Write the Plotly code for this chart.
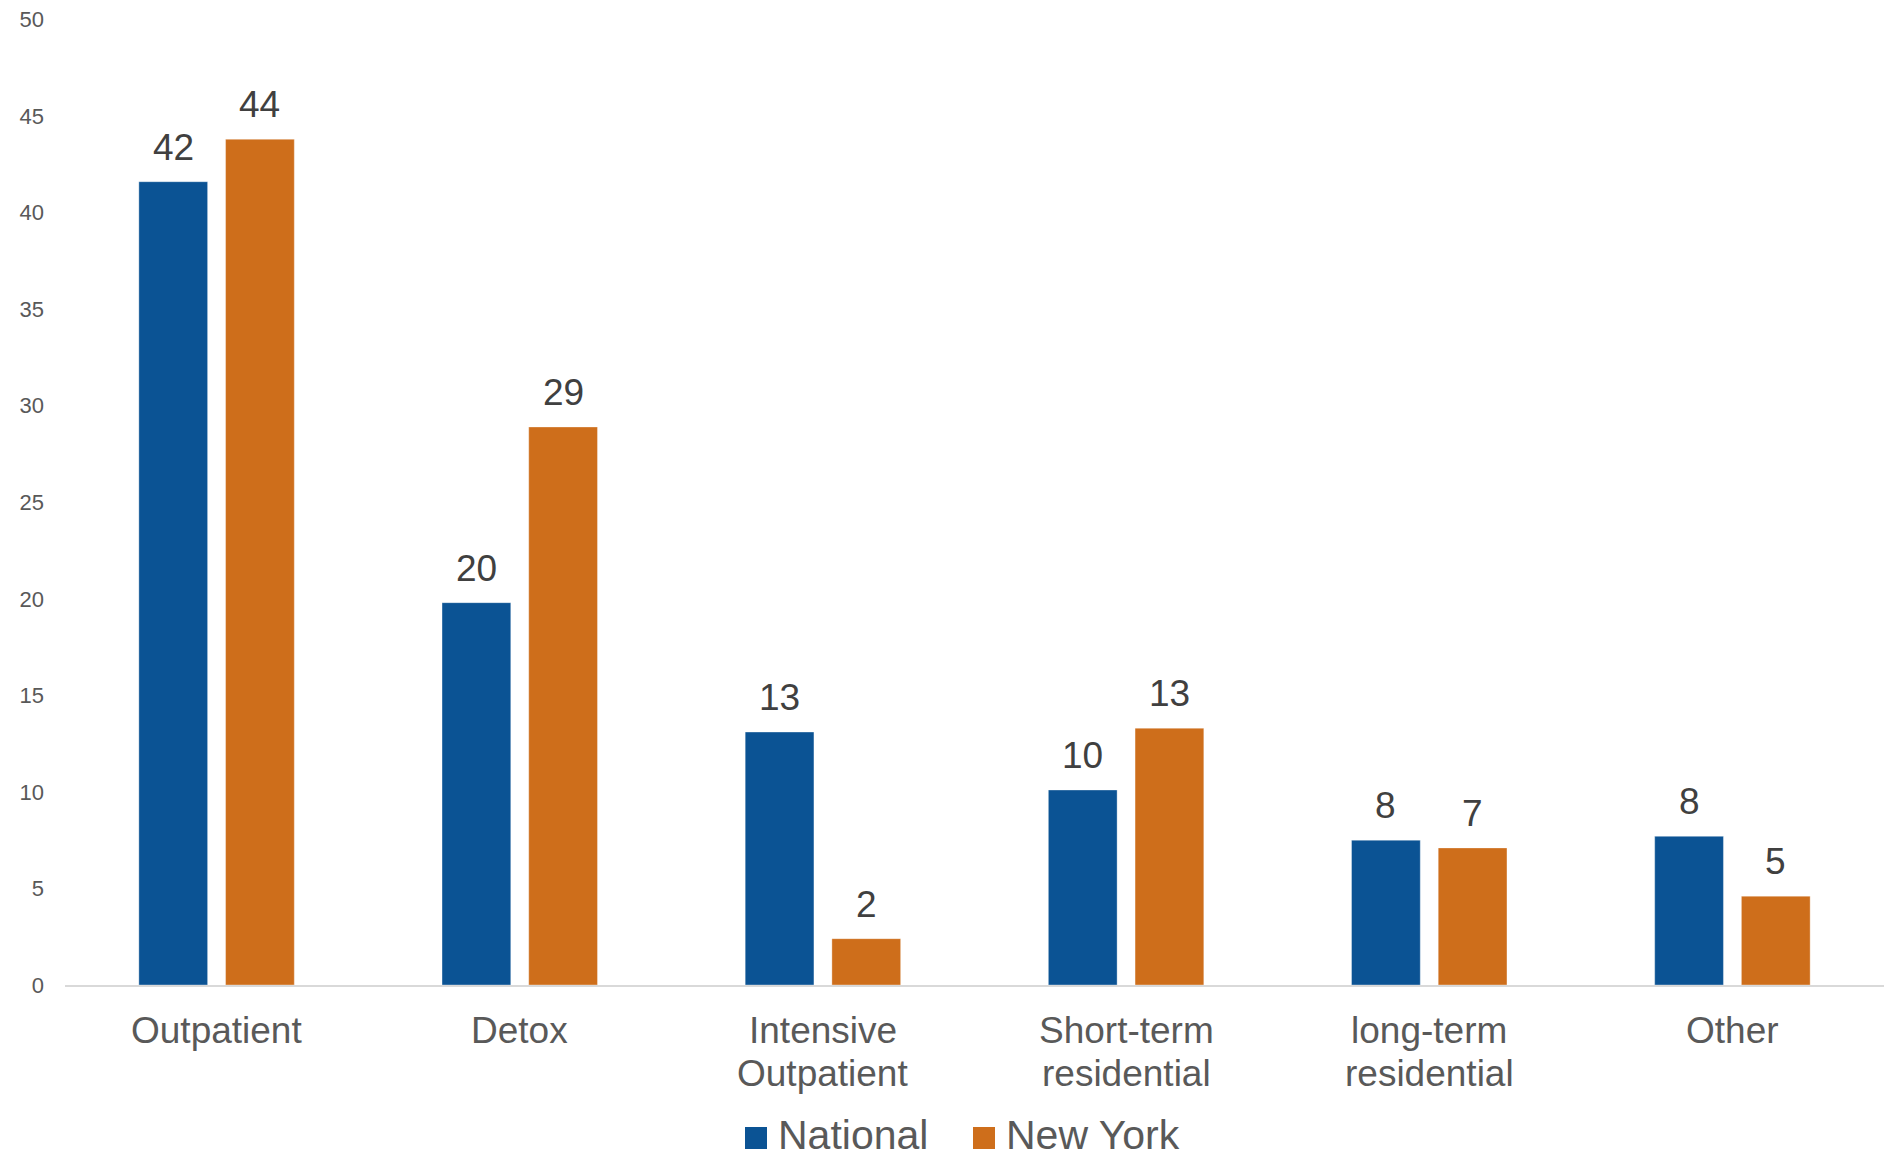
import plotly.graph_objects as go

# Share of admissions by treatment setting (%)
categories = ["Outpatient", "Detox", "Intensive Outpatient",
              "Short-term residential", "long-term residential", "Other"]
category_lines = [["Outpatient"], ["Detox"], ["Intensive", "Outpatient"],
                  ["Short-term", "residential"], ["long-term", "residential"], ["Other"]]
national = [41.6, 19.8, 13.1, 10.1, 7.5, 7.7]
new_york = [43.8, 28.9, 2.4, 13.3, 7.1, 4.6]
series_names = ["National", "New York"]
y_ticks = [0, 5, 10, 15, 20, 25, 30, 35, 40, 45, 50]

W, H = 1884, 1158
BLUE = "#0B5394"
ORANGE = "#CE6E1B"
FONT = "Arial, Liberation Sans, sans-serif"

# plot area in pixels
left, right, top, bottom = 65, 1884, 19.5, 985


def px(x):
    return x / W


def py(y):
    return (H - y) / H


fig = go.Figure()
for name, vals, col in [(series_names[0], national, BLUE),
                        (series_names[1], new_york, ORANGE)]:
    fig.add_trace(go.Bar(
        x=categories, y=vals, name=name,
        marker=dict(color=col, line=dict(color="rgba(255,255,255,0.35)", width=1)),
        showlegend=False,
    ))

# value labels above each bar
slot = (right - left) / len(categories) * (1 - 0.428) / 2
for vals, dx in [(national, -slot / 2), (new_york, slot / 2)]:
    for c, v in zip(categories, vals):
        fig.add_annotation(
            x=c, y=v, text=f"{v:.0f}", showarrow=False,
            xshift=dx, yshift=12, yanchor="bottom",
            font=dict(family=FONT, size=37, color="#404040"),
        )

# category labels, one annotation per line for tighter line spacing
line_y = [1030, 1073]
for c, lines in zip(categories, category_lines):
    for i, txt in enumerate(lines):
        fig.add_annotation(
            x=c, xref="x", yref="paper", y=py(line_y[i]),
            text=txt, showarrow=False, yanchor="middle",
            font=dict(family=FONT, size=37, color="#595959"),
        )

# legend drawn as squares plus labels below the axis
legend_items = [(series_names[0], BLUE, 745), (series_names[1], ORANGE, 973)]
for name, col, x0 in legend_items:
    fig.add_shape(type="rect", xref="paper", yref="paper",
                  x0=px(x0), x1=px(x0 + 22), y0=py(1149), y1=py(1127),
                  fillcolor=col, line=dict(width=0))
    fig.add_annotation(xref="paper", yref="paper", x=px(x0 + 31), y=py(1135),
                       text=name, showarrow=False, xanchor="left", yanchor="middle",
                       font=dict(family=FONT, size=41, color="#595959"))

fig.update_layout(
    width=W, height=H,
    margin=dict(l=0, r=0, t=0, b=0),
    paper_bgcolor="white", plot_bgcolor="white",
    barmode="group", bargap=0.428, bargroupgap=0.207,
    font=dict(family=FONT, color="#595959"),
    xaxis=dict(
        domain=[left / W, 1], automargin=False,
        showgrid=False, showline=True, linecolor="#D9D9D9", linewidth=2,
        ticks="", showticklabels=False,
    ),
    yaxis=dict(
        domain=[(H - bottom) / H, (H - top) / H], automargin=False,
        range=[0, 50], tickvals=y_ticks,
        showgrid=False, zeroline=False, showline=False,
        ticks="", tickfont=dict(size=22, color="#595959"),
        ticklabelstandoff=20,
    ),
)

fig.write_html("out.html")
